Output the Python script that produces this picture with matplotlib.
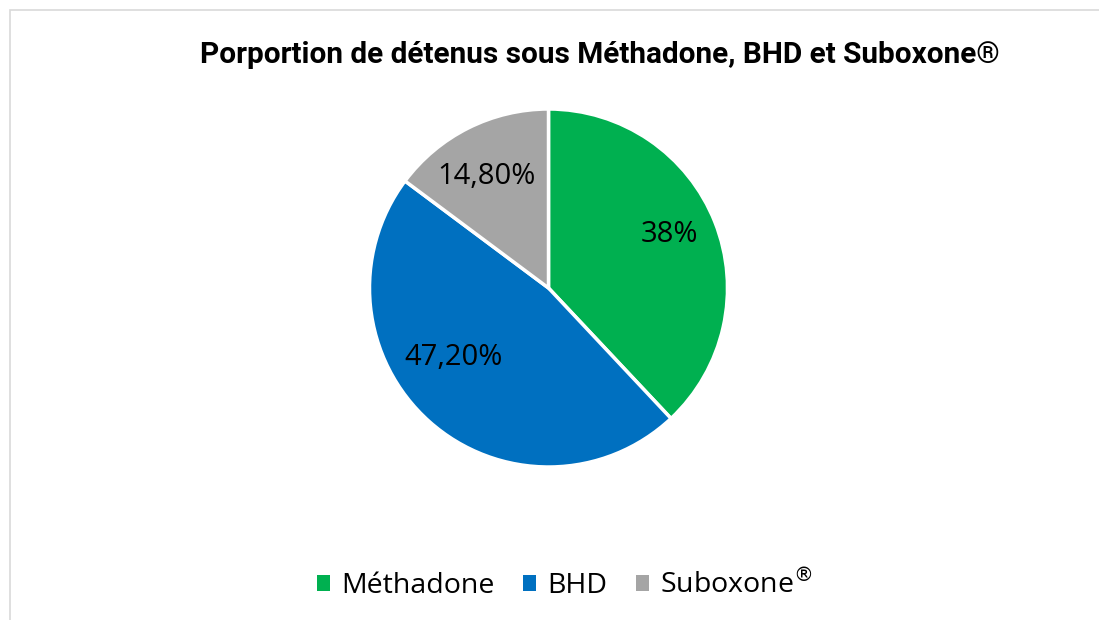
import matplotlib
matplotlib.use("Agg")
import numpy as np
import matplotlib.pyplot as plt
from matplotlib.patches import Patch, Rectangle

# data
categories = ["Méthadone", "BHD", "Suboxone$^{®}$"]
values = [38.0, 47.2, 14.8]
label_texts = ["38%", "47,20%", "14,80%"]
colors = ["#00B050", "#0070C0", "#A5A5A5"]

W, H = 1099, 620
fig = plt.figure(figsize=(W / 100, H / 100), dpi=100)
fig.patch.set_facecolor("white")

# chart area border (light grey, like the Excel frame)
fig.add_artist(Rectangle((9.5 / W, -0.1), 1.2, (H - 10) / H + 0.1,
                         transform=fig.transFigure, fill=False,
                         edgecolor="#D9D9D9", linewidth=1.2))

# pie axes: centre (548, 288) px, radius 179 px
cx, cy, r = 548.5, 288, 179
ax = fig.add_axes([(cx - r) / W, (H - cy - r) / H, 2 * r / W, 2 * r / H])
wedges, _ = ax.pie(values, colors=colors, startangle=90, counterclock=False,
                   radius=1, wedgeprops=dict(edgecolor="white", linewidth=2.5))
ax.set_xlim(-1, 1)
ax.set_ylim(-1, 1)
ax.set_aspect("equal")
ax.axis("off")

# data labels, placed inside each slice
label_r = [0.74, 0.66, 0.71]
label_shift = [2, -12, 2.5]
for w, txt, lr, sh in zip(wedges, label_texts, label_r, label_shift):
    ang = np.deg2rad((w.theta1 + w.theta2) / 2 + sh)
    ax.text(lr * np.cos(ang), lr * np.sin(ang), txt, ha="center", va="center",
            fontsize=21, family="Open Sans", color="black")

fig.text(600 / W, 1 - 55 / H, "Porportion de détenus sous Méthadone, BHD et Suboxone®",
         ha="center", va="center", fontsize=21.4, fontweight="bold",
         family=["Roboto", "DejaVu Sans"])

handles = [Patch(facecolor=c, edgecolor="none") for c in colors]
fig.legend(handles, categories, loc="center", bbox_to_anchor=(565 / W, 1 - 585 / H),
           ncol=3, frameon=False, handlelength=0.45, handleheight=0.45,
           handletextpad=0.4, columnspacing=1.0,
           prop=dict(family="Open Sans", size=20.5))

fig.savefig("out.png", dpi=100)
